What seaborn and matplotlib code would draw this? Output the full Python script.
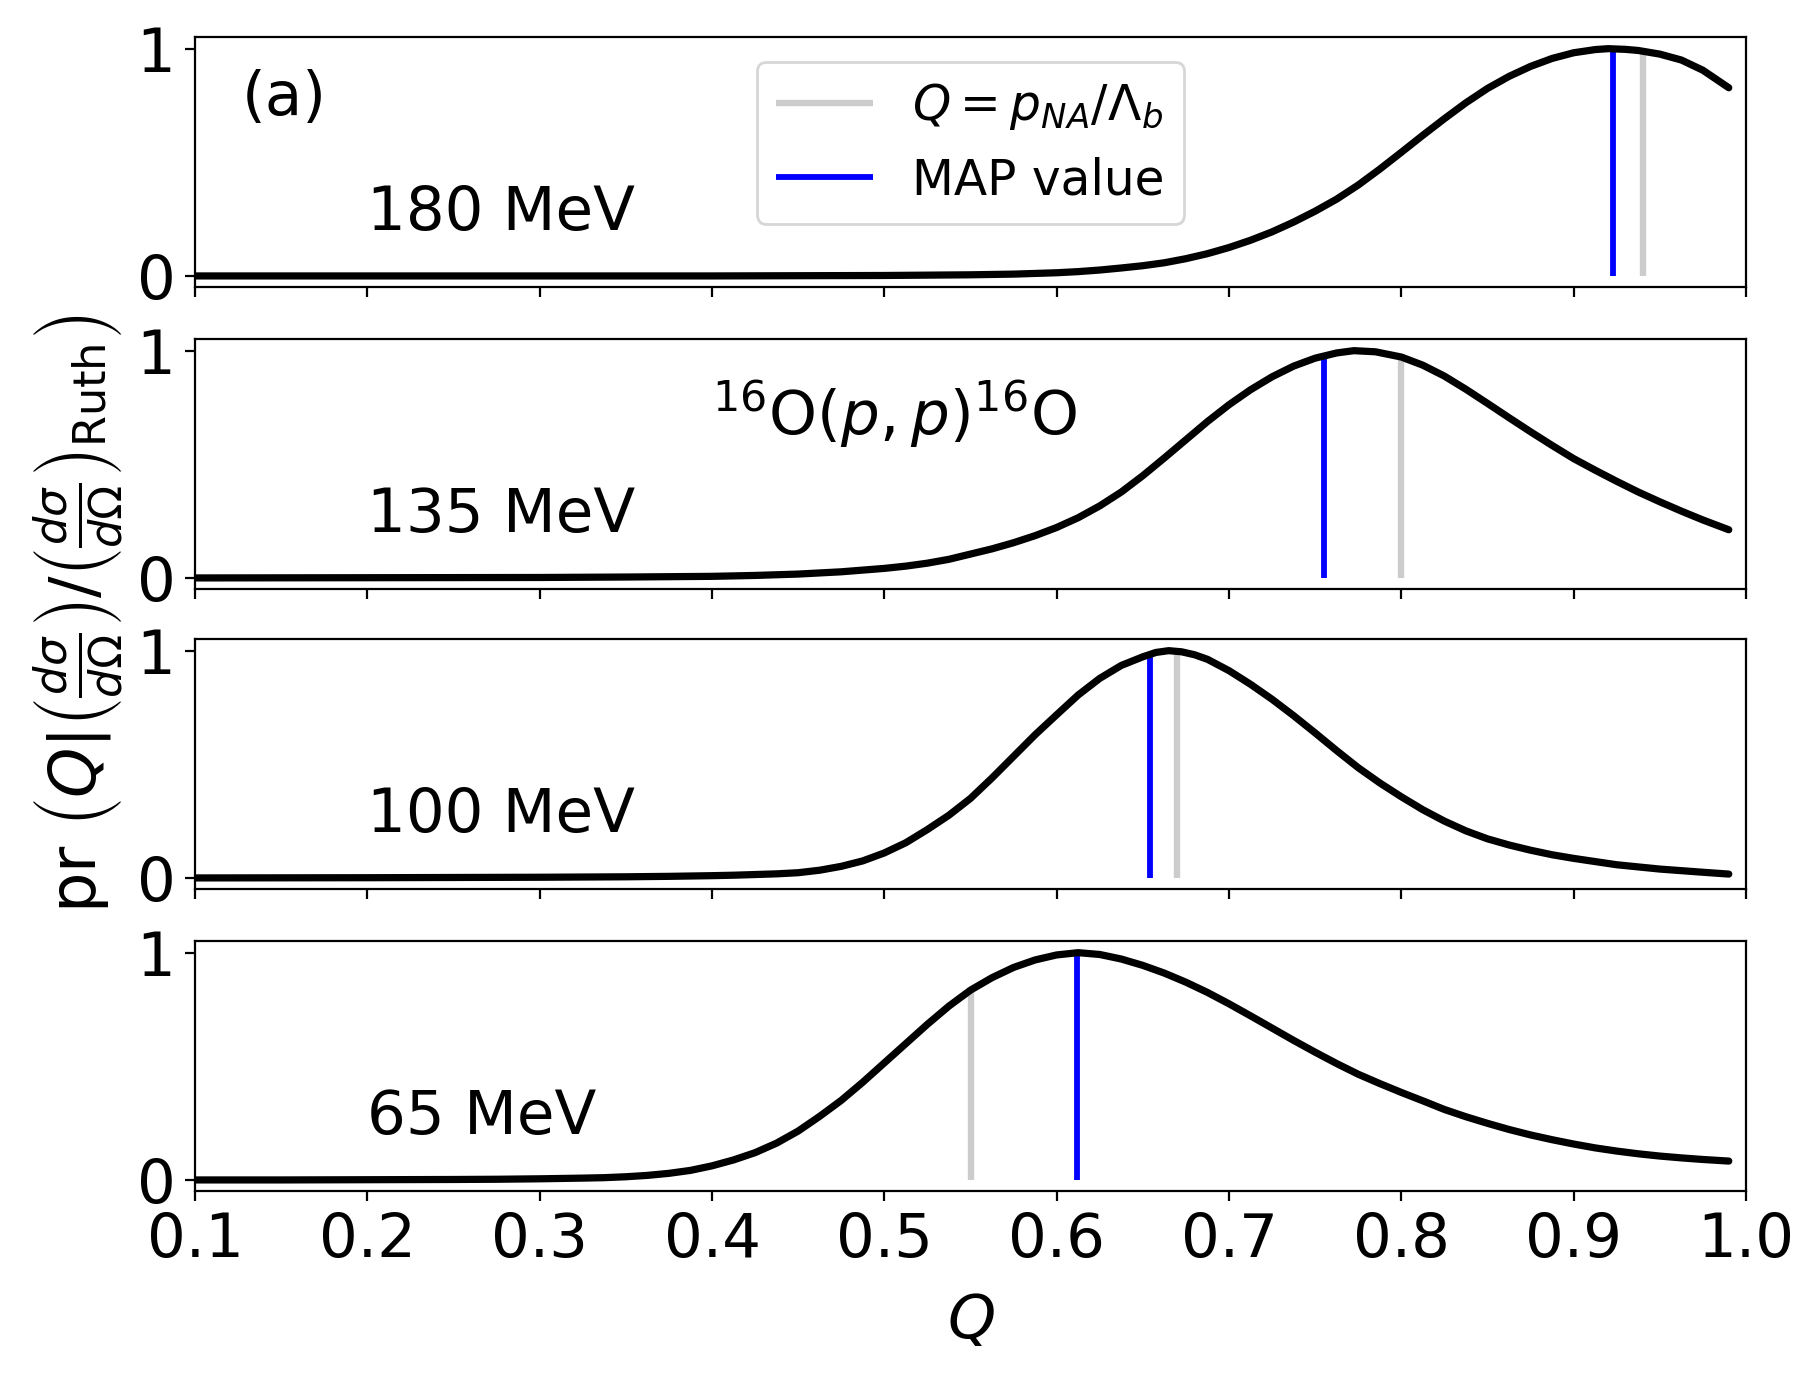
import numpy as np
import pandas as pd
import matplotlib
matplotlib.use("Agg")
import matplotlib.pyplot as plt
import seaborn as sns

# ---------------- data ----------------
energies = ["180 MeV", "135 MeV", "100 MeV", "65 MeV"]

q_180 = [0.10, 0.20, 0.30, 0.40, 0.45, 0.50, 0.55, 0.575, 0.60, 0.6125, 0.625, 0.6375,
         0.65, 0.6625, 0.675, 0.6875, 0.70, 0.7125, 0.725, 0.7375, 0.75, 0.7625,
         0.775, 0.7875, 0.80, 0.8125, 0.825, 0.8375, 0.85, 0.8625, 0.875, 0.8875,
         0.90, 0.9125, 0.92, 0.93, 0.9375, 0.95, 0.9625, 0.975, 0.99]
p_180 = [0.0, 0.0, 0.0, 0.0, 0.001, 0.002, 0.005, 0.008, 0.014, 0.019, 0.026, 0.035,
         0.045, 0.058, 0.076, 0.098, 0.125, 0.157, 0.194, 0.237, 0.285, 0.338,
         0.400, 0.470, 0.544, 0.619, 0.692, 0.762, 0.825, 0.878, 0.922, 0.957,
         0.982, 0.996, 1.0, 0.997, 0.992, 0.976, 0.95, 0.905, 0.828]

q_135 = [0.10, 0.20, 0.30, 0.35, 0.40, 0.425, 0.45, 0.475, 0.50, 0.5125, 0.525, 0.5375,
         0.55, 0.5625, 0.575, 0.5875, 0.60, 0.6125, 0.625, 0.6375, 0.65, 0.6625,
         0.675, 0.6875, 0.70, 0.7125, 0.725, 0.7375, 0.75, 0.7625, 0.7725, 0.785,
         0.80, 0.8125, 0.825, 0.8375, 0.85, 0.8625, 0.875, 0.8875, 0.90, 0.9125,
         0.925, 0.9375, 0.95, 0.9625, 0.975, 0.99]
p_135 = [0.0, 0.001, 0.002, 0.004, 0.007, 0.011, 0.017, 0.027, 0.042, 0.052, 0.065, 0.082,
         0.105, 0.128, 0.155, 0.186, 0.222, 0.265, 0.317, 0.378, 0.45, 0.528,
         0.608, 0.688, 0.762, 0.828, 0.885, 0.932, 0.967, 0.99, 1.0, 0.995,
         0.972, 0.936, 0.888, 0.83, 0.768, 0.705, 0.643, 0.583, 0.525, 0.474,
         0.425, 0.378, 0.335, 0.294, 0.255, 0.212]

q_100 = [0.10, 0.20, 0.25, 0.30, 0.35, 0.375, 0.40, 0.4125, 0.425, 0.4375, 0.45, 0.4625,
         0.475, 0.4875, 0.50, 0.5125, 0.525, 0.5375, 0.55, 0.5625, 0.575, 0.5875,
         0.60, 0.6125, 0.625, 0.6375, 0.65, 0.6575, 0.665, 0.6725, 0.68, 0.6875,
         0.70, 0.7125, 0.725, 0.7375, 0.75, 0.7625, 0.775, 0.7875, 0.80, 0.8125,
         0.825, 0.8375, 0.85, 0.8625, 0.875, 0.8875, 0.90, 0.925, 0.95, 0.975, 0.99]
p_100 = [0.0, 0.001, 0.002, 0.003, 0.005, 0.007, 0.01, 0.012, 0.015, 0.018, 0.023, 0.034,
         0.051, 0.075, 0.11, 0.155, 0.213, 0.276, 0.35, 0.44, 0.535, 0.63,
         0.718, 0.805, 0.878, 0.935, 0.973, 0.992, 1.0, 0.995, 0.982, 0.962,
         0.912, 0.852, 0.786, 0.714, 0.638, 0.56, 0.485, 0.418, 0.357, 0.30,
         0.25, 0.207, 0.172, 0.145, 0.122, 0.102, 0.086, 0.058, 0.039, 0.025, 0.017]

q_65 = [0.10, 0.15, 0.20, 0.25, 0.275, 0.30, 0.325, 0.3375, 0.35, 0.3625, 0.375, 0.3875,
        0.40, 0.4125, 0.425, 0.4375, 0.45, 0.4625, 0.475, 0.4875, 0.50, 0.5125,
        0.525, 0.5375, 0.55, 0.5625, 0.575, 0.5875, 0.60, 0.6125, 0.625, 0.6375,
        0.65, 0.6625, 0.675, 0.6875, 0.70, 0.7125, 0.725, 0.7375, 0.75, 0.7625,
        0.775, 0.7875, 0.80, 0.8125, 0.825, 0.8375, 0.85, 0.8625, 0.875, 0.8875,
        0.90, 0.9125, 0.925, 0.9375, 0.95, 0.9625, 0.975, 0.99]
p_65 = [0.0, 0.0, 0.001, 0.002, 0.003, 0.005, 0.008, 0.01, 0.014, 0.02, 0.029, 0.042,
        0.062, 0.088, 0.12, 0.162, 0.215, 0.28, 0.35, 0.43, 0.515, 0.60,
        0.685, 0.765, 0.835, 0.89, 0.935, 0.968, 0.99, 1.0, 0.992, 0.972,
        0.944, 0.91, 0.87, 0.825, 0.775, 0.722, 0.668, 0.614, 0.562, 0.512,
        0.465, 0.424, 0.385, 0.348, 0.31, 0.278, 0.249, 0.222, 0.198, 0.177,
        0.158, 0.141, 0.127, 0.115, 0.105, 0.097, 0.09, 0.083]

# Q = p_NA / Lambda_b (grey) and MAP value (blue), with line heights
q_expected = [0.940, 0.800, 0.670, 0.550]
h_expected = [0.988, 0.972, 0.997, 0.835]
q_map = [0.923, 0.755, 0.654, 0.612]
h_map = [1.0, 0.975, 0.985, 1.0]

curves_q = [q_180, q_135, q_100, q_65]
curves_p = [p_180, p_135, p_100, p_65]

x_ticks = [0.1, 0.2, 0.3, 0.4, 0.5, 0.6, 0.7, 0.8, 0.9, 1.0]
x_ticklabels = ["0.1", "0.2", "0.3", "0.4", "0.5", "0.6", "0.7", "0.8", "0.9", "1.0"]
y_ticks = [0, 1]

# ---------------- style ----------------
sns.set_theme(style="ticks")
plt.rcParams["font.family"] = ["DejaVu Sans"]
plt.rcParams.update({
    "axes.edgecolor": "black",
    "axes.linewidth": 0.8,
    "axes.labelcolor": "black",
    "text.color": "black",
    "xtick.color": "black",
    "ytick.color": "black",
    "xtick.major.size": 3.5,
    "ytick.major.size": 3.5,
    "xtick.major.width": 0.8,
    "ytick.major.width": 0.8,
    "axes.grid": False,
    "mathtext.fontset": "dejavusans",
})

W, H, DPI = 1819, 1375, 200
fig = plt.figure(figsize=(W / DPI, H / DPI), dpi=DPI)

left = 195 / W
width = (1746 - 195) / W
ax_h = 250 / H
tops = [37.3, 339.3, 639.3, 941.3]

FS = 22
axes = []
for i in range(4):
    bottom = 1 - (tops[i] + 250) / H
    ax = fig.add_axes([left, bottom, width, ax_h])
    axes.append(ax)
    df = pd.DataFrame({"Q": curves_q[i], "p": curves_p[i]})
    ax.vlines(q_expected[i], 0, h_expected[i], color="#cccccc", lw=2.3,
              label=r"$Q=p_{NA}/\Lambda_b$", zorder=2)
    ax.vlines(q_map[i], 0, h_map[i], color="#0000ff", lw=2.1,
              label="MAP value", zorder=2)
    sns.lineplot(data=df, x="Q", y="p", ax=ax, color="black", lw=2.6,
                 sort=False, estimator=None, zorder=3, legend=False)
    ax.set_xlim(0.1, 1.0)
    ax.set_ylim(-0.05, 1.05)
    ax.set_xticks(x_ticks)
    ax.set_yticks(y_ticks)
    ax.set_yticklabels(["0", "1"])
    ax.tick_params(labelsize=FS, pad=3.5)
    ax.set_xlabel("")
    ax.set_ylabel("")
    for s in ax.spines.values():
        s.set_visible(True)
        s.set_color("black")
    ax.text(0.2, 0.2, energies[i], fontsize=FS, color="black")
    if i < 3:
        ax.tick_params(labelbottom=False)

axes[0].text(0.03, 0.69, "(a)", transform=axes[0].transAxes, fontsize=FS, color="black")
axes[0].legend(loc="upper center", fontsize=17.5, frameon=True, fancybox=True,
               framealpha=0.8, edgecolor="0.8")
axes[1].text(0.4, 0.63, r"$^{16}$O$(p,p)^{16}$O", fontsize=FS, color="black")

axes[3].set_xticklabels(x_ticklabels)
axes[3].set_xlabel(r"$Q$", fontsize=FS, labelpad=8, color="black")

ycenter = 1 - ((37.3 + 1191) / 2) / H
fig.text(0.043, ycenter,
         r"pr $\left(Q|\left(\frac{d\sigma}{d\Omega}\right)/\left(\frac{d\sigma}{d\Omega}\right)_{\rm Ruth}\right)$",
         rotation=90, ha="center", va="center", fontsize=23, color="black")

fig.savefig("out.png", dpi=DPI)
